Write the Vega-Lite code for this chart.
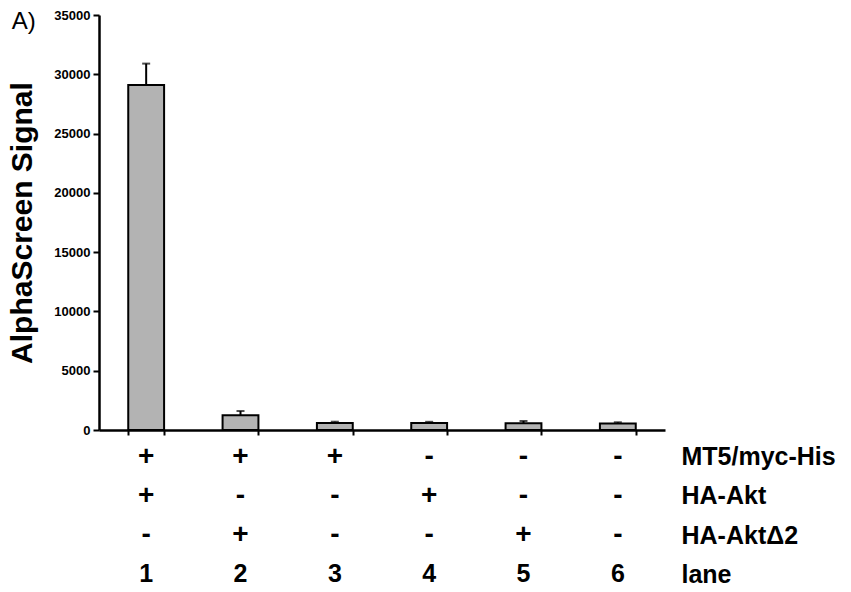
{
  "$schema": "https://vega.github.io/schema/vega-lite/v6.json",
  "padding": {"left": 7, "top": 9, "right": 0, "bottom": 0},
  "background": "white",
  "spacing": 0,
  "config": {
    "view": {"stroke": null},
    "font": "Liberation Sans",
    "axis": {"domainColor": "black", "tickColor": "black", "labelColor": "black", "titleColor": "black", "grid": false}
  },
  "datasets": {
    "bars": [
      {"lane": "1", "signal": 29100, "upper": 30900},
      {"lane": "2", "signal": 1250, "upper": 1600},
      {"lane": "3", "signal": 580, "upper": 700},
      {"lane": "4", "signal": 580, "upper": 690},
      {"lane": "5", "signal": 560, "upper": 760},
      {"lane": "6", "signal": 540, "upper": 650}
    ],
    "table": [
      {"lane": "1", "row": "MT5/myc-His", "symbol": "+"},
      {"lane": "2", "row": "MT5/myc-His", "symbol": "+"},
      {"lane": "3", "row": "MT5/myc-His", "symbol": "+"},
      {"lane": "4", "row": "MT5/myc-His", "symbol": "-"},
      {"lane": "5", "row": "MT5/myc-His", "symbol": "-"},
      {"lane": "6", "row": "MT5/myc-His", "symbol": "-"},
      {"lane": "1", "row": "HA-Akt", "symbol": "+"},
      {"lane": "2", "row": "HA-Akt", "symbol": "-"},
      {"lane": "3", "row": "HA-Akt", "symbol": "-"},
      {"lane": "4", "row": "HA-Akt", "symbol": "+"},
      {"lane": "5", "row": "HA-Akt", "symbol": "-"},
      {"lane": "6", "row": "HA-Akt", "symbol": "-"},
      {"lane": "1", "row": "HA-AktΔ2", "symbol": "-"},
      {"lane": "2", "row": "HA-AktΔ2", "symbol": "+"},
      {"lane": "3", "row": "HA-AktΔ2", "symbol": "-"},
      {"lane": "4", "row": "HA-AktΔ2", "symbol": "-"},
      {"lane": "5", "row": "HA-AktΔ2", "symbol": "+"},
      {"lane": "6", "row": "HA-AktΔ2", "symbol": "-"},
      {"lane": "1", "row": "lane", "symbol": "1"},
      {"lane": "2", "row": "lane", "symbol": "2"},
      {"lane": "3", "row": "lane", "symbol": "3"},
      {"lane": "4", "row": "lane", "symbol": "4"},
      {"lane": "5", "row": "lane", "symbol": "5"},
      {"lane": "6", "row": "lane", "symbol": "6"}
    ]
  },
  "vconcat": [
    {
      "width": 566,
      "height": 415,
      "title": {"text": "A)", "anchor": "start", "frame": "bounds", "fontSize": 24, "fontWeight": "normal", "font": "Liberation Sans", "color": "black", "baseline": "alphabetic", "offset": -44, "dy": 0, "dx": 4},
      "data": {"name": "bars"},
      "encoding": {
        "x": {
          "field": "lane", "type": "ordinal",
          "scale": {"paddingInner": 0.62, "paddingOuter": 0.31},
          "axis": {"labels": false, "title": null, "tickBand": "extent", "tickSize": 5, "tickWidth": 2, "domainWidth": 2.5}
        }
      },
      "layer": [
        {
          "mark": {"type": "bar", "fill": "#b3b3b3", "stroke": "black", "strokeWidth": 2},
          "encoding": {
            "y": {
              "field": "signal", "type": "quantitative",
              "scale": {"domain": [0, 35000], "nice": false},
              "axis": {"values": [0, 5000, 10000, 15000, 20000, 25000, 30000, 35000], "format": "d", "title": "AlphaScreen Signal", "titleFontSize": 30, "titleFontWeight": "bold", "titlePadding": 16, "labelFontSize": 13, "labelFontWeight": "bold", "labelPadding": 3, "tickSize": 6, "tickWidth": 2, "domainWidth": 2.5}
            }
          }
        },
        {
          "mark": {"type": "rule", "strokeWidth": 2, "color": "black"},
          "encoding": {
            "y": {"field": "signal", "type": "quantitative"},
            "y2": {"field": "upper"}
          }
        },
        {
          "mark": {"type": "tick", "color": "black", "thickness": 2, "size": 8},
          "encoding": {
            "y": {"field": "upper", "type": "quantitative"}
          }
        }
      ]
    },
    {
      "width": 566,
      "height": 157,
      "data": {"name": "table"},
      "mark": {"type": "text", "fontWeight": "bold", "color": "black", "font": "Liberation Sans"},
      "encoding": {
        "x": {"field": "lane", "type": "ordinal", "axis": null, "scale": {"paddingInner": 0.62, "paddingOuter": 0.31}},
        "y": {
          "field": "row", "type": "nominal",
          "sort": ["MT5/myc-His", "HA-Akt", "HA-AktΔ2", "lane"],
          "scale": {"paddingInner": 0, "paddingOuter": 0},
          "axis": {"orient": "right", "title": null, "domain": false, "ticks": false, "tickSize": 0, "labelPadding": 16, "labelFontSize": 25, "labelFontWeight": "bold", "labelAlign": "left", "labelBaseline": "middle"}
        },
        "text": {"field": "symbol"},
        "size": {"condition": {"test": "datum.row === 'lane'", "value": 25}, "value": 28}
      }
    }
  ]
}
